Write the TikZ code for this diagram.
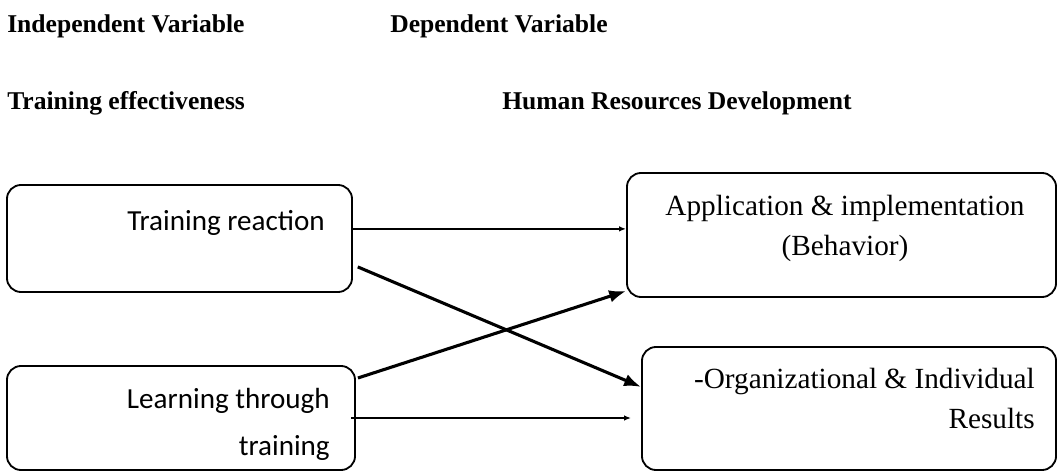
\documentclass[tikz,border=0pt]{standalone}
\usepackage{fontspec}
\setmainfont{Liberation Serif}
\newfontfamily\calibri{Carlito}
\usepackage{tikz}
\usetikzlibrary{arrows.meta}
\tikzset{
  var box/.style={draw,rounded corners=10pt,line width=1.3pt},
  head node/.style={font=\fontsize{18.2}{22}\selectfont\bfseries,inner sep=0pt},
  serif text/.style={font=\fontsize{20.8}{28}\selectfont,inner sep=0pt},
  sans text/.style={font=\calibri\fontsize{20.7}{33}\selectfont,inner sep=0pt},
  thin arrow/.style={-{Latex[length=5pt,width=4pt]},line width=1.2pt},
  thick arrow/.style={-{Latex[length=12pt,width=9pt]},line width=2.2pt}
}

\begin{document}
\begin{tikzpicture}[x=0.025cm,y=-0.025cm]
  \useasboundingbox (0,0) rectangle (1058,472);
  % headings
  \node[head node,anchor=base west] (indep) at (7,33) {Independent Variable};
  \node[head node,anchor=base west] (dep) at (390,33) {Dependent Variable};
  \node[head node,anchor=base west] (train) at (7,110) {Training effectiveness};
  \node[head node,anchor=base west] (hrd) at (502,110) {Human Resources Development};
  % boxes
  \node[var box,minimum width=8.625cm,minimum height=2.675cm] (react) at (179.5,238.5) {};
  \node[var box,minimum width=8.7cm,minimum height=2.6cm] (learn) at (181,418) {};
  \node[var box,minimum width=10.725cm,minimum height=3.1cm] (apply) at (841.5,235) {};
  \node[var box,minimum width=10.35cm,minimum height=3.075cm] (result) at (849,408.5) {};
  % box texts (base = last line)
  \node[sans text,anchor=base east] (react text) at (325,230) {Training reaction};
  \node[sans text,align=right,anchor=base east] (learn text) at (330,455) {Learning through\\training};
  \node[serif text,align=center,anchor=base] (apply text) at (845,255) {Application \& implementation\\(Behavior)};
  \node[serif text,align=right,anchor=base east] (result text) at (1035,428) {-Organizational \& Individual\\Results};
  % arrows
  \draw[thin arrow] ([yshift=.24cm]react.east) -- ([yshift=.24cm]react.east -| apply.west);
  \draw[thick arrow] ([xshift=.12cm,yshift=-.71cm]react.east) -- ([yshift=.54cm]result.west);
  \draw[thick arrow] ([xshift=.05cm,yshift=1cm]learn.east) -- ([yshift=-1.4cm]apply.west);
  \draw[thin arrow] ([xshift=-.12cm]learn.east) -- ([xshift=-.25cm]learn.east -| result.west);
\end{tikzpicture}
\end{document}
